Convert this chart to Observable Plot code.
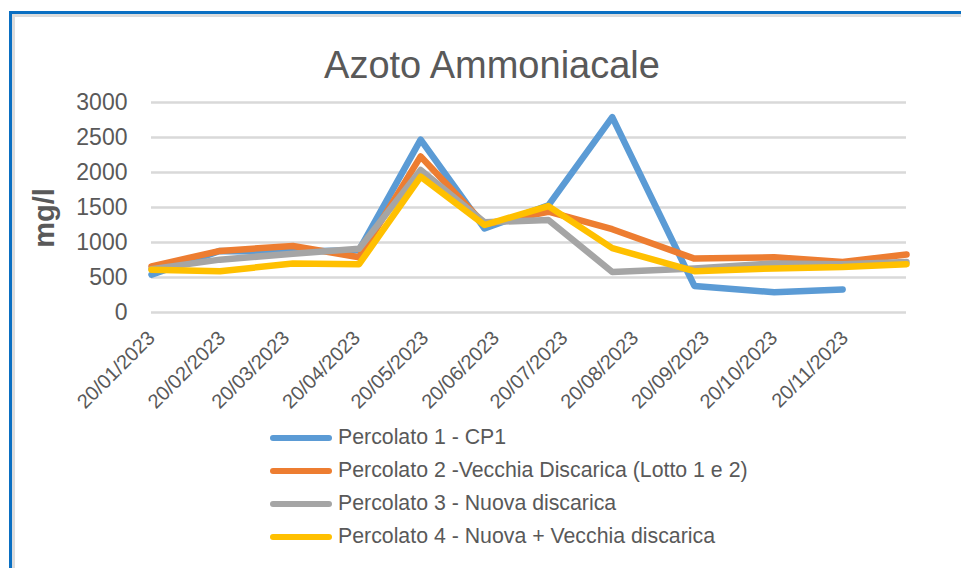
<!DOCTYPE html>
<html>
<head>
<meta charset="utf-8">
<script src="https://cdn.jsdelivr.net/npm/d3@7"></script>
<script src="https://cdn.jsdelivr.net/npm/@observablehq/plot@0.6"></script>
<style>
  html, body { margin: 0; padding: 0; background: #fff; overflow: hidden; }
  #wrap { position: relative; width: 961px; height: 568px; font-family: "Liberation Sans", Arial, sans-serif; color: #595959; }
  #frame { position: absolute; left: 9px; top: 11px; right: -10px; bottom: -10px;
           border-top: 3px solid #0a6fc2; border-left: 3px solid #0a6fc2;
           box-shadow: inset 3px 3px 0 #dcdcdc; }
  #title { position: absolute; left: 0; width: 984px; top: 46px; text-align: center; font-size: 38px; line-height: 1; }
  #ylabel { position: absolute; left: 44px; top: 218px; transform: translate(-50%, -50%) rotate(-90deg);
            font-size: 29px; font-weight: bold; line-height: 1; white-space: nowrap; }
  #chart { position: absolute; left: 0; top: 0; }
  #chart svg [aria-label^="x-axis"] text { font-size: 20px; }
  #legend { position: absolute; left: 270px; top: 421px; }
  .row { display: flex; align-items: center; height: 33px; }
  .sw { width: 62px; height: 6px; border-radius: 3px; margin-right: 6px; }
  .lt { font-size: 21.3px; white-space: nowrap; }
</style>
</head>
<body>
<div id="wrap">
  <div id="frame"></div>
  <div id="chart"></div>
  <div id="title"></div>
  <div id="ylabel"></div>
  <div id="legend"></div>
</div>
<script>
const titleText = "Azoto Ammoniacale";
const yLabel = "mg/l";
const seriesNames = [
  "Percolato 1 - CP1",
  "Percolato 2 -Vecchia Discarica (Lotto 1 e 2)",
  "Percolato 3 - Nuova discarica",
  "Percolato 4 - Nuova + Vecchia discarica"
];
const seriesColors = ["#5b9bd5", "#ed7d31", "#a5a5a5", "#ffc000"];
const sampleDates = ["2023-01-20","2023-02-19","2023-03-23","2023-04-21","2023-05-18","2023-06-15",
                     "2023-07-13","2023-08-10","2023-09-15","2023-10-20","2023-11-19","2023-12-17"];
const percolato1 = [540, 880, 870, 890, 2470, 1200, 1530, 2790, 380, 290, 330, null];
const percolato2 = [660, 880, 950, 790, 2230, 1260, 1440, 1190, 770, 790, 720, 830];
const percolato3 = [620, 755, 840, 910, 2035, 1290, 1320, 580, 630, 700, 690, 720];
const percolato4 = [610, 590, 700, 690, 1940, 1250, 1520, 920, 590, 630, 650, 690];
const yTicks = [0, 500, 1000, 1500, 2000, 2500, 3000];
const xTickLabels = ["20/01/2023","20/02/2023","20/03/2023","20/04/2023","20/05/2023","20/06/2023",
                     "20/07/2023","20/08/2023","20/09/2023","20/10/2023","20/11/2023"];

const parseISO = d3.utcParse("%Y-%m-%d");
const parseLbl = d3.utcParse("%d/%m/%Y");
const fmtLbl = d3.utcFormat("%d/%m/%Y");
const allSeries = [percolato1, percolato2, percolato3, percolato4];
const rows = [];
allSeries.forEach((vals, i) => {
  vals.forEach((v, j) => {
    if (v != null) rows.push({date: parseISO(sampleDates[j]), value: v, series: seriesNames[i]});
  });
});
const xTicks = xTickLabels.map(parseLbl);

const chart = Plot.plot({
  width: 961,
  height: 450,
  marginLeft: 151,
  marginRight: 55,
  marginTop: 102,
  marginBottom: 138,
  style: {fontFamily: "'Liberation Sans', Arial, sans-serif", fontSize: "23px", color: "#595959", background: "transparent", overflow: "visible"},
  x: {type: "utc", domain: [parseISO(sampleDates[0]), parseISO(sampleDates[sampleDates.length - 1])],
      ticks: xTicks, tickFormat: fmtLbl, tickRotate: -45, tickSize: 0, tickPadding: 22, label: null},
  y: {domain: [0, 3000], ticks: yTicks, tickFormat: d => String(d), tickSize: 0, tickPadding: 24, label: null},
  color: {domain: seriesNames, range: seriesColors},
  marks: [
    Plot.ruleY(yTicks, {stroke: "#d9d9d9", strokeWidth: 2.5}),
    Plot.line(rows, {x: "date", y: "value", z: "series", stroke: "series", strokeWidth: 6.5,
                     strokeLinejoin: "round", strokeLinecap: "round"})
  ]
});
document.getElementById("chart").appendChild(chart);
document.getElementById("title").textContent = titleText;
document.getElementById("ylabel").textContent = yLabel;
const legend = document.getElementById("legend");
seriesNames.forEach((name, i) => {
  const row = document.createElement("div");
  row.className = "row";
  const sw = document.createElement("div");
  sw.className = "sw";
  sw.style.background = seriesColors[i];
  const lt = document.createElement("div");
  lt.className = "lt";
  lt.textContent = name;
  row.appendChild(sw);
  row.appendChild(lt);
  legend.appendChild(row);
});
</script>
</body>
</html>
